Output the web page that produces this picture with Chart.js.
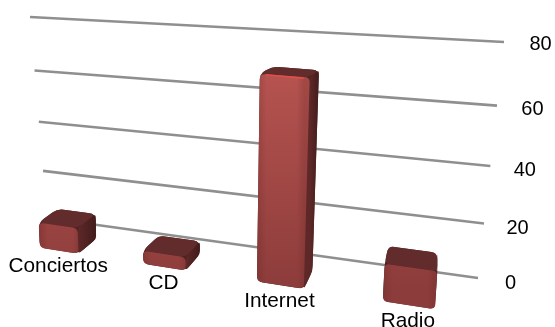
<!DOCTYPE html>
<html>
<head>
<meta charset="utf-8">
<title>Chart</title>
<script src="https://cdn.jsdelivr.net/npm/chart.js@4/dist/chart.umd.min.js"></script>
<style>
    html, body { margin: 0; padding: 0; background: #fff; }
    #wrap { width: 555px; height: 327px; }
</style>
</head>
<body>
<div id="wrap"><canvas id="myChart"></canvas></div>
<script>
const categories = ['Conciertos', 'CD', 'Internet', 'Radio'];
const seriesValues = [10, 5, 72, 13];
const yTickValues = [0, 20, 40, 60, 80];

// corners of the three planes on screen: bottom-left, bottom-right, top-right, top-left
const wallQuad = [[47, 218], [478, 278], [504, 42], [30, 17]];
const frontQuad = [[10, 243], [478, 316], [498, 63], [-2, 34]];
const backQuad = [[29, 229], [475, 295], [492, 58], [22, 27]];

// unit square -> quad, returned as a function
function makeProjection(q) {
    let [x0, y0] = q[0], [x1, y1] = q[1], [x2, y2] = q[2], [x3, y3] = q[3];
    let dx1 = x1 - x2, dx2 = x3 - x2, sx = x0 - x1 + x2 - x3;
    let dy1 = y1 - y2, dy2 = y3 - y2, sy = y0 - y1 + y2 - y3;
    let det = dx1 * dy2 - dx2 * dy1;
    let g = (sx * dy2 - dx2 * sy) / det;
    let h = (dx1 * sy - sx * dy1) / det;
    let a = x1 - x0 + g * x1, b = x3 - x0 + h * x3;
    let d = y1 - y0 + g * y1, e = y3 - y0 + h * y3;
    return function (u, v) {
        let w = g * u + h * v + 1;
        return [(a * u + b * v + x0) / w, (d * u + e * v + y0) / w];
    };
}
const toWall = makeProjection(wallQuad);
const toFront = makeProjection(frontQuad);
const toBack = makeProjection(backQuad);

// point on the edge p -> q, at most r away from p and never past the middle
function towards(p, q, r) {
    let dx = q[0] - p[0], dy = q[1] - p[1];
    let len = Math.hypot(dx, dy) || 1;
    let t = Math.min(r / len, 0.5);
    return [p[0] + dx * t, p[1] + dy * t];
}

function roundedPath(ctx, pts, r) {
    let n = pts.length;
    ctx.beginPath();
    for (let i = 0; i < n; i++) {
        let p = pts[i];
        let a = towards(p, pts[(i + n - 1) % n], r);
        let b = towards(p, pts[(i + 1) % n], r);
        if (i == 0) ctx.moveTo(a[0], a[1]);
        else ctx.lineTo(a[0], a[1]);
        ctx.quadraticCurveTo(p[0], p[1], b[0], b[1]);
    }
    ctx.closePath();
}

// draws the wall grid, the boxes and the labels in perspective from the chart's scales
const perspectivePlugin = {
    id: 'perspective',
    beforeDatasetDraw(chart) {
        let ctx = chart.ctx;
        let area = chart.chartArea;
        let yScale = chart.scales.y;
        let fu = x => (x - area.left) / area.width;
        let fv = y => (area.bottom - y) / area.height;

        ctx.save();
        ctx.fillStyle = '#000';
        ctx.textAlign = 'center';
        ctx.textBaseline = 'middle';

        // grid lines and value labels
        ctx.font = '20px "Liberation Sans", Arial, sans-serif';
        yScale.ticks.forEach(function (t) {
            let v = fv(yScale.getPixelForValue(t.value));
            let a = toWall(0, v), b = toWall(1, v);
            ctx.beginPath();
            ctx.moveTo(a[0], a[1]);
            ctx.lineTo(b[0], b[1]);
            ctx.strokeStyle = '#8f8f8f';
            ctx.lineWidth = 2.6;
            ctx.stroke();
            let l = toWall(1.063, v);
            ctx.fillText(t.label, l[0], l[1] + 1);
        });

        // boxes
        ctx.font = '20.8px "Liberation Sans", Arial, sans-serif';
        chart.getDatasetMeta(0).data.forEach(function (bar, i) {
            let u0 = fu(bar.x - bar.width / 2), u1 = fu(bar.x + bar.width / 2);
            let vTop = fv(bar.y), vBase = fv(bar.base);

            let ftl = toFront(u0, vTop), ftr = toFront(u1, vTop);
            let fbl = toFront(u0, vBase), fbr = toFront(u1, vBase);
            let btl = toBack(u0, vTop), btr = toBack(u1, vTop), bbr = toBack(u1, vBase);

            // silhouette first so the rounded faces leave no gaps
            roundedPath(ctx, [ftl, btl, btr, bbr, fbr, fbl], 6);
            ctx.fillStyle = '#4f2222';
            ctx.fill();

            let side = ctx.createLinearGradient(ftr[0], 0, btr[0], 0);
            side.addColorStop(0, '#5e2828');
            side.addColorStop(1, '#431c1c');
            roundedPath(ctx, [ftr, btr, bbr, fbr], 3);
            ctx.fillStyle = side;
            ctx.fill();

            roundedPath(ctx, [ftl, btl, btr, ftr], 6);
            ctx.fillStyle = '#622c2c';
            ctx.fill();

            let front = ctx.createLinearGradient(0, 74, 0, 290);
            front.addColorStop(0, '#b5534f');
            front.addColorStop(1, '#8c3c3b');
            roundedPath(ctx, [ftl, ftr, fbr, fbl], 5);
            ctx.fillStyle = front;
            ctx.fill();

            let shade = ctx.createLinearGradient(fbl[0], 0, fbr[0], 0);
            shade.addColorStop(0, 'rgba(90,30,30,0.25)');
            shade.addColorStop(0.2, 'rgba(90,30,30,0)');
            shade.addColorStop(0.85, 'rgba(90,30,30,0)');
            shade.addColorStop(1, 'rgba(90,30,30,0.2)');
            ctx.fillStyle = shade;
            ctx.fill();

            // lit top edge, only visible on the tall box
            let glow = Math.min(1, Math.abs(fbl[1] - ftl[1]) / 150);
            if (glow > 0.3) {
                ctx.beginPath();
                ctx.moveTo(ftl[0] + 6, ftl[1] + 1);
                ctx.lineTo(ftr[0] - 6, ftr[1] + 1);
                ctx.strokeStyle = 'rgba(225,80,72,' + glow + ')';
                ctx.lineWidth = 1.5;
                ctx.stroke();
            }

            // category label under the box
            let lx = (fbl[0] + fbr[0]) / 2, ly = (fbl[1] + fbr[1]) / 2;
            ctx.fillStyle = '#000';
            ctx.fillText(categories[i], lx - 1, ly + 16);
        });
        ctx.restore();
        return false;
    }
};

new Chart('myChart', {
    type: 'bar',
    data: {
        labels: categories,
        datasets: [{
            data: seriesValues,
            barPercentage: 0.385,
            categoryPercentage: 1
        }]
    },
    options: {
        responsive: true,
        maintainAspectRatio: false,
        animation: false,
        plugins: {
            legend: { display: false },
            tooltip: { enabled: false }
        },
        scales: {
            x: {
                grid: { display: false },
                border: { display: false },
                ticks: { display: false }
            },
            y: {
                min: 0,
                max: 80,
                afterBuildTicks: function (axis) {
                    axis.ticks = yTickValues.map(v => ({ value: v }));
                },
                grid: { display: false },
                border: { display: false },
                ticks: { display: false }
            }
        }
    },
    plugins: [perspectivePlugin]
});
</script>
</body>
</html>
